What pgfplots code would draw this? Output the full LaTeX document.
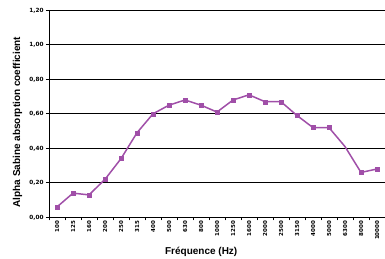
\documentclass[border=0pt]{standalone}
\usepackage{fontspec}
\setmainfont{Liberation Sans}
\newfontfamily\tickfont{DejaVu Sans}
\usepackage{pgfplots}
\pgfplotsset{compat=1.18}
\definecolor{lineviolet}{HTML}{A04FA8}
\begin{document}
\begin{tikzpicture}
\begin{axis}[
  scale only axis, width=336pt, height=207pt,
  xmin=-0.5, xmax=20.5, ymin=0, ymax=1.2,
  axis lines=left, axis line style={-, line width=0.9pt, black},
  ytick={0,0.2,0.4,0.6,0.8,1.0,1.2},
  minor ytick={0,0.2,0.4,0.6,0.8,1.0,1.2},
  ymajorgrids, grid style={black, line width=0.9pt},
  xtick={0,...,20},
  xticklabels={100,125,160,200,250,315,400,500,630,800,1000,1250,1600,2000,2500,3150,4000,5000,6300,8000,10000},
  minor xtick={-0.5,0.5,...,20.5},
  major tick length=0pt, minor tick length=3pt,
  tick align=outside,
  minor tick style={black, line width=0.6pt},
  /pgf/number format/assume math mode=true,
  /pgf/number format/.cd, use comma, fixed, fixed zerofill, precision=2, /pgfplots/.cd,
  yticklabel style={font=\tickfont\fontsize{5.7}{6}\selectfont\bfseries, xshift=-2pt},
  xticklabel style={font=\tickfont\fontsize{5.5}{6}\selectfont\bfseries, rotate=90, anchor=east},
  ylabel={Alpha Sabine absorption coefficient},
  xlabel={Fréquence (Hz)},
  label style={font=\fontsize{10}{11}\selectfont\bfseries},
  ylabel style={at={(axis description cs:-0.0863,0.46)}, anchor=base, inner sep=0pt},
  xlabel style={at={(axis description cs:0.453,-0.181)}, anchor=base, inner sep=0pt},
  clip=false,
]
\coordinate (O) at (axis description cs:0,0);
\addplot[lineviolet, line width=1.5pt, no marks] coordinates {
(0,0.06) (1,0.14) (2,0.13) (3,0.22) (4,0.34) (5,0.49) (6,0.60) (7,0.65) (8,0.68) (9,0.65)
(10,0.61) (11,0.68) (12,0.71) (13,0.67) (14,0.67) (15,0.59) (16,0.52) (17,0.52) (18,0.41) (19,0.26) (20,0.28)
};
\addplot[lineviolet, only marks, mark=square*, mark size=2pt] coordinates {
(0,0.06) (1,0.14) (2,0.13) (3,0.22) (4,0.34) (5,0.49) (6,0.60) (7,0.65) (8,0.68) (9,0.65)
(10,0.61) (11,0.68) (12,0.71) (13,0.67) (14,0.67) (15,0.59) (16,0.52) (17,0.52) (19,0.26) (20,0.28)
};
\end{axis}
\pgfresetboundingbox
\path ([shift={(-49pt,-41.7pt)}]O) rectangle ([shift={(336pt,217.3pt)}]O);
\end{tikzpicture}
\end{document}
